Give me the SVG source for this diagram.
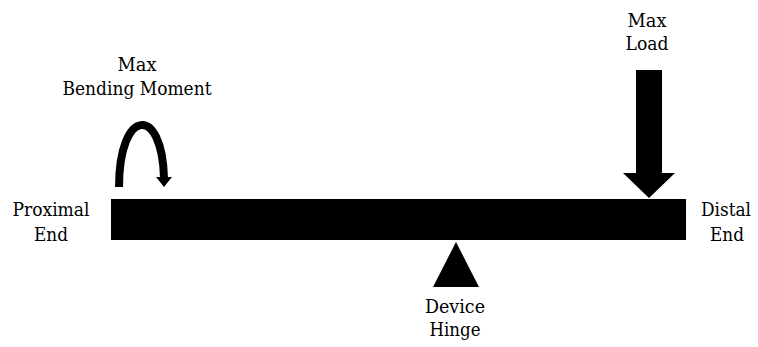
<svg xmlns="http://www.w3.org/2000/svg" width="758" height="347" viewBox="0 0 758 347">
<style>
text{font-family:'DejaVu Serif','Liberation Serif',serif;font-size:19px;fill:#000;text-anchor:middle}
.solid{fill:#000;stroke:none}
</style>
<rect width="758" height="347" fill="#fff"/>
<g id="beam"><rect class="solid" x="111" y="199" width="575" height="41"/></g>
<g id="hinge"><polygon class="solid" points="456,242 479,287 433,287"/></g>
<g id="load"><polygon class="solid" points="636,70 662,70 662,173 675,173 649,198 623,173 636,173"/></g>
<g id="connectors">
<path d="M119,187 C119,108 162,104 164,178" fill="none" stroke="#000" stroke-width="8"/>
<polygon class="solid" points="156,177 172,177 164,187"/>
</g>
<g id="label-moment"><text x="137" y="71" textLength="39" lengthAdjust="spacingAndGlyphs">Max</text><text x="137" y="95" textLength="149" lengthAdjust="spacingAndGlyphs">Bending Moment</text></g>
<g id="label-load"><text x="647" y="27" textLength="39" lengthAdjust="spacingAndGlyphs">Max</text><text x="647" y="50" textLength="43" lengthAdjust="spacingAndGlyphs">Load</text></g>
<g id="label-proximal"><text x="51" y="216" textLength="77" lengthAdjust="spacingAndGlyphs">Proximal</text><text x="51" y="241" textLength="34" lengthAdjust="spacingAndGlyphs">End</text></g>
<g id="label-distal"><text x="726" y="216" textLength="50" lengthAdjust="spacingAndGlyphs">Distal</text><text x="727" y="241" textLength="34" lengthAdjust="spacingAndGlyphs">End</text></g>
<g id="label-hinge"><text x="455" y="313" textLength="60" lengthAdjust="spacingAndGlyphs">Device</text><text x="455" y="336" textLength="51" lengthAdjust="spacingAndGlyphs">Hinge</text></g>
</svg>
